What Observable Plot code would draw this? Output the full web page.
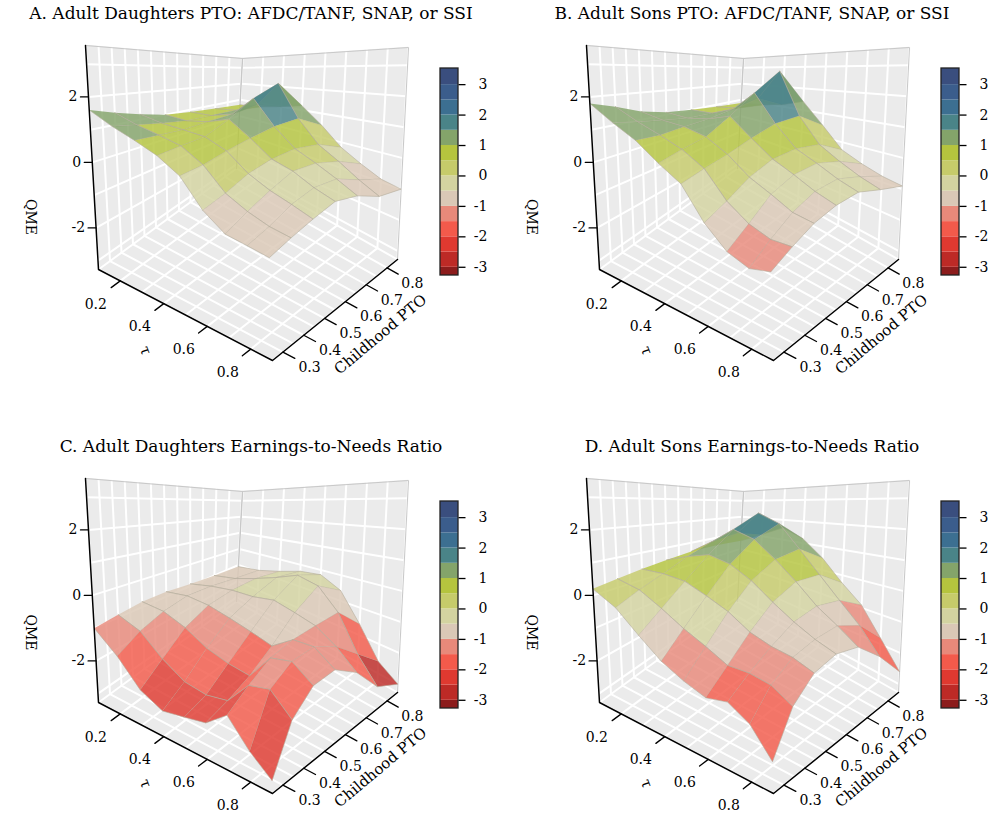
<!DOCTYPE html>
<html>
<head>
<meta charset="utf-8">
<script src="https://cdn.jsdelivr.net/npm/d3@7"></script>
<script src="https://cdn.jsdelivr.net/npm/@observablehq/plot@0.6"></script>
<style>
  body { margin: 0; background: #fff; }
  #charts { display: flex; flex-wrap: wrap; width: 1003px; }
  #charts > svg { display: block; }
</style>
</head>
<body>
<div id="charts"></div>
<script>
// ---- data ----
const tauVals = [0.1, 0.2, 0.3, 0.4, 0.5, 0.6, 0.7, 0.8, 0.9];
const ptoVals = [0.25, 0.35, 0.45, 0.55, 0.65, 0.75, 0.85];

const titles = [
  "A. Adult Daughters PTO: AFDC/TANF, SNAP, or SSI",
  "B. Adult Sons PTO: AFDC/TANF, SNAP, or SSI",
  "C. Adult Daughters Earnings-to-Needs Ratio",
  "D. Adult Sons Earnings-to-Needs Ratio"
];

// rows = tau, columns = childhood PTO
const qmeA = [
  [1.6, 1.4, 1.2, 1.0, 0.9, 0.8, 0.7],
  [1.2, 1.1, 1.0, 0.9, 0.9, 0.9, 0.8],
  [0.9, 0.9, 0.9, 1.0, 1.1, 1.3, 1.0],
  [0.6, 0.7, 0.8, 1.2, 1.8, 2.3, 1.2],
  [0.2, 0.3, 0.5, 0.7, 0.9, 1.0, 0.5],
  [-0.5, -0.3, 0.0, 0.2, 0.3, 0.2, -0.2],
  [-0.9, -0.6, -0.3, 0.0, 0.0, -0.2, -0.6],
  [-1.0, -0.8, -0.5, -0.3, -0.3, -0.6, -0.9],
  [-1.1, -0.9, -0.7, -0.5, -0.6, -0.9, -1.0]
];
const qmeB = [
  [1.8, 1.6, 1.3, 1.1, 1.0, 0.9, 0.8],
  [1.3, 1.2, 1.1, 1.0, 1.0, 1.0, 0.9],
  [0.9, 0.9, 1.0, 1.1, 1.3, 1.6, 1.1],
  [0.4, 0.6, 0.8, 1.3, 2.0, 2.8, 1.4],
  [0.0, 0.2, 0.4, 0.7, 1.0, 1.1, 0.5],
  [-0.8, -0.5, -0.1, 0.2, 0.3, 0.2, -0.3],
  [-1.3, -0.9, -0.4, -0.1, 0.0, -0.2, -0.6],
  [-1.5, -1.1, -0.7, -0.4, -0.3, -0.5, -0.8],
  [-1.4, -1.1, -0.8, -0.6, -0.5, -0.7, -0.9]
];
const qmeC = [
  [-1.0, -0.9, -0.8, -0.8, -0.9, -1.0, -1.1],
  [-1.6, -1.2, -0.9, -0.7, -0.7, -0.8, -0.9],
  [-2.3, -1.8, -1.2, -0.8, -0.6, -0.5, -0.6],
  [-2.6, -2.2, -1.6, -1.0, -0.6, -0.2, -0.3],
  [-2.5, -2.3, -1.8, -1.2, -0.5, 0.1, -0.2],
  [-2.4, -2.2, -1.9, -1.4, -0.7, -0.1, -0.6],
  [-2.0, -1.6, -1.2, -1.0, -0.9, -0.8, -1.6],
  [-2.6, -1.5, -1.1, -1.0, -1.3, -1.9, -2.6],
  [-3.0, -2.0, -1.5, -1.4, -1.8, -2.6, -3.0]
];
const qmeD = [
  [0.2, 0.3, 0.4, 0.5, 0.6, 0.6, 0.5],
  [-0.2, 0.1, 0.4, 0.8, 1.2, 1.4, 1.1],
  [-0.8, -0.3, 0.3, 1.0, 1.8, 2.4, 1.6],
  [-1.3, -0.7, 0.0, 0.8, 1.5, 2.0, 1.2],
  [-1.6, -1.0, -0.3, 0.4, 0.9, 1.1, 0.5],
  [-1.8, -1.3, -0.7, -0.1, 0.3, 0.3, -0.3],
  [-1.7, -1.3, -0.9, -0.5, -0.3, -0.4, -0.9],
  [-2.0, -1.4, -1.0, -0.8, -0.7, -1.0, -1.8],
  [-2.6, -1.7, -1.2, -1.0, -1.1, -1.7, -2.6]
];
const qmeGrids = [qmeA, qmeB, qmeC, qmeD];

const zTicks = [-2, 0, 2];
const tauTicks = [0.2, 0.4, 0.6, 0.8];
const ptoTicks = [0.3, 0.4, 0.5, 0.6, 0.7, 0.8];
const barTicks = [-3, -2, -1, 0, 1, 2, 3];
const bandEdges = [-3, -2.5, -2, -1.5, -1, -0.5, 0, 0.5, 1, 1.5, 2, 2.5, 3];
const bandColors = ["#8c1c1c", "#bd2a26", "#df3930", "#f35a4b", "#e8897a", "#dac8b6",
  "#d3d3a0", "#c6cb6a", "#b5c43e", "#84a46a", "#4a8488", "#3c6f91", "#3b5d8c", "#3a4e7e"];

// ---- box geometry (pixel corners of the drawn cube) ----
const zMin = -3.27, zMax = 3.57;
const W = 501;
const corner = {
  f00: [98, 269], f10: [272, 360], f11: [397, 259], f01: [236, 168],
  t00: [85, 45], t10: [262, 36], t11: [408, 47], t01: [242, 58]
};
const lerp = (a, b, t) => [a[0] + (b[0] - a[0]) * t, a[1] + (b[1] - a[1]) * t];
function proj(tau, pto, z) {
  const u = (tau - 0.1) / 0.8, v = (pto - 0.25) / 0.6, w = (z - zMin) / (zMax - zMin);
  const f = lerp(lerp(corner.f00, corner.f10, u), lerp(corner.f01, corner.f11, u), v);
  const t = lerp(lerp(corner.t00, corner.t10, u), lerp(corner.t01, corner.t11, u), v);
  return lerp(f, t, w);
}
const pt = (tau, pto, z, extra = {}) => { const [x, y] = proj(tau, pto, z); return {x, y, ...extra}; };

function makePanel(idx, H) {
  const grid = qmeGrids[idx];

  // walls and floor
  const walls = [
    [[0.1, 0.25, zMin], [0.1, 0.85, zMin], [0.1, 0.85, zMax], [0.1, 0.25, zMax]],
    [[0.1, 0.85, zMin], [0.9, 0.85, zMin], [0.9, 0.85, zMax], [0.1, 0.85, zMax]],
    [[0.1, 0.25, zMin], [0.9, 0.25, zMin], [0.9, 0.85, zMin], [0.1, 0.85, zMin]]
  ].flatMap((w, i) => w.map(c => pt(...c, {id: i})));

  // white grid lines
  const gl = [];
  let g = 0;
  for (let t = 0.1; t <= 0.91; t += 0.1) {
    gl.push(pt(t, 0.85, zMin, {id: g}), pt(t, 0.85, zMax, {id: g})); g++;
    gl.push(pt(t, 0.25, zMin, {id: g}), pt(t, 0.85, zMin, {id: g})); g++;
  }
  for (let p = 0.25; p <= 0.851; p += 0.05) {
    gl.push(pt(0.1, p, zMin, {id: g}), pt(0.1, p, zMax, {id: g})); g++;
    gl.push(pt(0.1, p, zMin, {id: g}), pt(0.9, p, zMin, {id: g})); g++;
  }
  for (let z = -3; z <= 3; z += 1) {
    gl.push(pt(0.1, 0.25, z, {id: g}), pt(0.1, 0.85, z, {id: g}), pt(0.9, 0.85, z, {id: g})); g++;
  }

  // surface quads, painted from back (low tau, high pto) to front
  const quads = [];
  for (let i = 0; i < tauVals.length - 1; i++)
    for (let j = 0; j < ptoVals.length - 1; j++)
      quads.push({i, j, depth: i + (ptoVals.length - 1 - j)});
  quads.sort((a, b) => a.depth - b.depth);
  const surf = quads.flatMap(({i, j}, k) => {
    const cs = [[i, j], [i + 1, j], [i + 1, j + 1], [i, j + 1]];
    const v = d3.mean(cs, ([a, b]) => grid[a][b]);
    return cs.map(([a, b]) => pt(tauVals[a], ptoVals[b], grid[a][b], {id: k, v}));
  });

  const tauTickLines = tauTicks.flatMap((t, k) => [pt(t, 0.25, zMin, {id: k}), pt(t, 0.21, zMin, {id: k})]);
  const ptoTickLines = ptoTicks.flatMap((p, k) => [pt(0.9, p, zMin, {id: k}), pt(0.955, p, zMin, {id: k})]);
  const zTickLines = zTicks.flatMap((z, k) => { const a = pt(0.1, 0.25, z, {id: k}); return [a, {x: a.x - 8, y: a.y, id: k}]; });

  // colour bar
  const bx = 440, bw = 18;
  const yz = d3.scaleLinear().domain([-3.27, 3.53]).range([275, 68]);
  const bands = bandColors.map((c, k) => ({
    v: k === 0 ? -3.2 : bandEdges[k - 1] + 0.25,
    y1: yz(k === 0 ? -3.27 : bandEdges[k - 1]),
    y2: yz(k === bandColors.length - 1 ? 3.53 : bandEdges[k])
  }));

  const font = "'DejaVu Serif', serif";
  const tl = pt(0.1, 0.25, 0);
  return Plot.plot({
    width: W, height: H,
    margin: 0,
    x: {domain: [0, W], range: [0, W], axis: null},
    y: {domain: [0, H], range: [0, H], axis: null},
    color: {type: "threshold", domain: bandEdges, range: bandColors},
    style: {fontFamily: font, fontSize: "14px", color: "#000", background: "#fff"},
    marks: [
      Plot.line(walls, {x: "x", y: "y", z: "id", fill: "#ebebeb", stroke: "#ebebeb"}),
      Plot.line(gl, {x: "x", y: "y", z: "id", stroke: "#fff", strokeWidth: 2}),
      Plot.line([pt(0.1, 0.25, zMax), pt(0.1, 0.85, zMax), pt(0.9, 0.85, zMax), pt(0.9, 0.85, zMin)],
        {x: "x", y: "y", stroke: "#c8c8c8", strokeWidth: 1}),
      Plot.line([pt(0.1, 0.85, zMin), pt(0.1, 0.85, zMax)], {x: "x", y: "y", stroke: "#c8c8c8"}),
      Plot.line(surf, {x: "x", y: "y", z: "id", fill: "v", fillOpacity: 0.82, stroke: "#b4ad9c", strokeWidth: 0.6}),
      Plot.line([pt(0.1, 0.25, zMax), pt(0.1, 0.25, zMin), pt(0.9, 0.25, zMin), pt(0.9, 0.85, zMin)],
        {x: "x", y: "y", stroke: "#000", strokeWidth: 1.5}),
      Plot.line(tauTickLines, {x: "x", y: "y", z: "id", stroke: "#000", strokeWidth: 1.3}),
      Plot.line(ptoTickLines, {x: "x", y: "y", z: "id", stroke: "#000", strokeWidth: 1.3}),
      Plot.line(zTickLines, {x: "x", y: "y", z: "id", stroke: "#000", strokeWidth: 1.3}),
      Plot.text(zTicks, {x: z => proj(0.1, 0.25, z)[0] - 11, y: z => proj(0.1, 0.25, z)[1], text: d => String(d), textAnchor: "end"}),
      Plot.text(tauTicks, {x: t => proj(t, 0.16, zMin)[0] - 4, y: t => proj(t, 0.16, zMin)[1] + 8, text: d => d.toFixed(1)}),
      Plot.text(ptoTicks, {x: p => proj(1.0, p, zMin)[0] + 5, y: p => proj(1.0, p, zMin)[1] + 4, text: d => d.toFixed(1)}),
      Plot.text(["QME"], {x: 30, y: tl[1], rotate: 90, text: d => d}),
      Plot.text(["τ"], {x: 145, y: 350, rotate: 70, text: d => d, fontSize: 15}),
      Plot.text(["Childhood PTO"], {x: 380, y: 334, rotate: -40, text: d => d, fontSize: 15}),
      Plot.rect(bands, {x1: bx, x2: bx + bw, y1: "y1", y2: "y2", fill: "v"}),
      Plot.rect([0], {x1: bx, x2: bx + bw, y1: yz(-3.27), y2: yz(3.53), fill: "none", stroke: "#222", strokeWidth: 1.3}),
      Plot.link(barTicks, {x1: bx + bw, x2: bx + bw + 7, y1: z => yz(z), y2: z => yz(z), stroke: "#000", strokeWidth: 1.3}),
      Plot.text(barTicks, {x: bx + bw + 29, y: z => yz(z), text: d => String(d), textAnchor: "end"}),
      Plot.text([titles[idx]], {x: W / 2, y: 13, text: d => d, fontSize: 17})
    ]
  });
}

const charts = document.getElementById("charts");
charts.append(makePanel(0, 433), makePanel(1, 433), makePanel(2, 398), makePanel(3, 398));
</script>
</body>
</html>
